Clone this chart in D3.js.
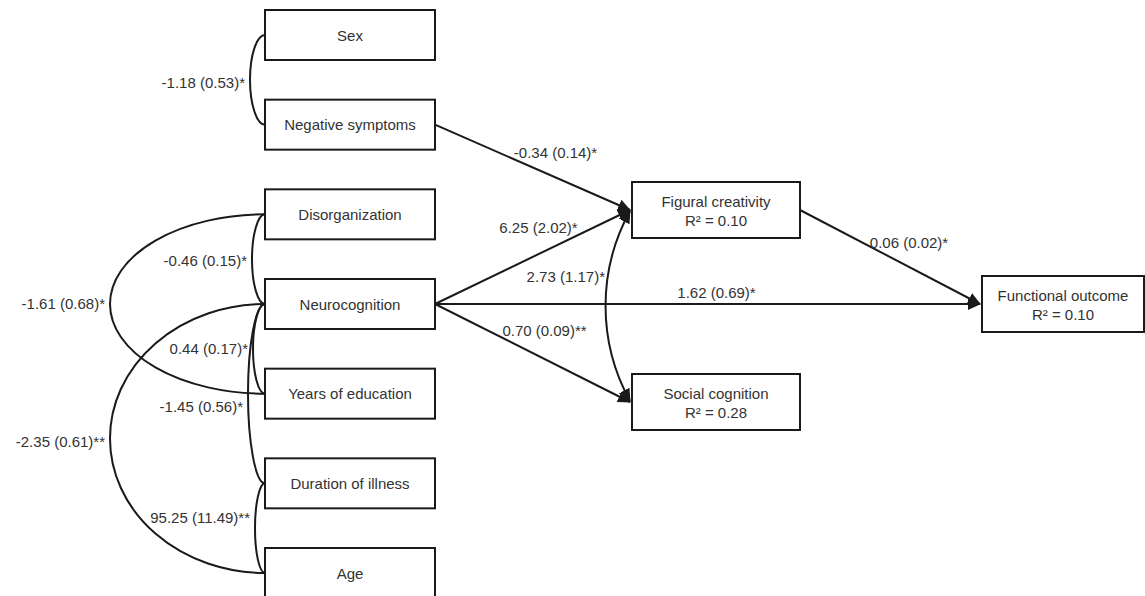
<!DOCTYPE html>
<html>
<head>
<meta charset="utf-8">
<script src="https://cdn.jsdelivr.net/npm/d3@7"></script>
<style>
  body { margin: 0; background: #fff; }
  svg { display: block; font-family: "Liberation Sans", Arial, sans-serif; }
</style>
</head>
<body>
<div class="chart-container"></div>
<script>
// observed variables (left column), top to bottom
const predictors = ["Sex", "Negative symptoms", "Disorganization", "Neurocognition",
                    "Years of education", "Duration of illness", "Age"];
const mediators = ["Figural creativity", "Social cognition"];
const mediatorR2 = ["0.10", "0.28"];
const outcome = "Functional outcome";
const outcomeR2 = "0.10";

// directed paths: estimate (SE)
const pathFrom  = ["Negative symptoms", "Neurocognition", "Neurocognition", "Neurocognition", "Figural creativity"];
const pathTo    = ["Figural creativity", "Figural creativity", "Functional outcome", "Social cognition", "Functional outcome"];
const pathLabel = ["-0.34 (0.14)*", "6.25 (2.02)*", "1.62 (0.69)*", "0.70 (0.09)**", "0.06 (0.02)*"];

// covariances between predictors
const covA     = ["Sex", "Disorganization", "Disorganization", "Neurocognition", "Neurocognition", "Neurocognition", "Duration of illness"];
const covB     = ["Negative symptoms", "Neurocognition", "Years of education", "Years of education", "Duration of illness", "Age", "Age"];
const covLabel = ["-1.18 (0.53)*", "-0.46 (0.15)*", "-1.61 (0.68)*", "0.44 (0.17)*", "-1.45 (0.56)*", "-2.35 (0.61)**", "95.25 (11.49)**"];

// residual covariance between mediators
const medCovLabel = "2.73 (1.17)*";

function draw() {
    const width = 1145;
    const height = 596;
    const ink = "#1a1a1a";
    const textColor = "#333";

    // layout
    const leftX = 265, leftW = 170, leftH = 50;
    const medX = 632, medW = 168, medH = 56;
    const outX = 982, outW = 162, outH = 56;

    const yLeft = d3.scalePoint().domain(predictors).range([35, 573]);
    const yMed = d3.scalePoint().domain(mediators).range([210, 402]);
    const yOut = yLeft("Neurocognition");

    // path label offsets from edge midpoint
    const labelOffset = [[22, -15], [5, -30], [8, -12], [11, -23], [18, -15]];
    // covariance bulge and label shift
    const covBulge = [15, 13, 155, 12, 17, 155, 10];
    const covDy = [3, 1, -1, 0, 13, 3, -11];

    const svg = d3.select('.chart-container').append("svg")
        .attr("width", width)
        .attr("height", height)
        .attr("viewBox", [0, 0, width, height]);

    const defs = svg.append("defs");
    defs.append("marker")
        .attr("id", "arrow")
        .attr("viewBox", "0 0 13 12")
        .attr("refX", 12)
        .attr("refY", 6)
        .attr("markerWidth", 13)
        .attr("markerHeight", 12)
        .attr("markerUnits", "userSpaceOnUse")
        .attr("orient", "auto-start-reverse")
        .append("path")
        .attr("d", "M0,0 L13,6 L0,12 Z")
        .attr("fill", ink);

    function anchor(name, side) {
        if (predictors.includes(name)) return [side === "left" ? leftX : leftX + leftW, yLeft(name)];
        if (mediators.includes(name)) return [side === "left" ? medX : medX + medW, yMed(name)];
        return [side === "left" ? outX : outX + outW, yOut];
    }

    // covariance curves (half ellipses on the left side)
    const covG = svg.append("g");
    covA.forEach((a, i) => {
        const p = anchor(a, "left");
        const q = anchor(covB[i], "left");
        const ry = (q[1] - p[1]) / 2;
        const rx = covBulge[i];
        covG.append("path")
            .attr("d", `M${p[0]},${p[1]} A${rx},${ry} 0 0 0 ${q[0]},${q[1]}`)
            .attr("fill", "none")
            .attr("stroke", ink)
            .attr("stroke-width", 2);
        covG.append("text")
            .attr("x", p[0] - rx - 5)
            .attr("y", (p[1] + q[1]) / 2 + covDy[i])
            .attr("text-anchor", "end")
            .attr("dominant-baseline", "central")
            .attr("fill", textColor)
            .attr("font-size", 15)
            .text(covLabel[i]);
    });

    // mediator residual covariance (double-headed arc)
    {
        const p = anchor(mediators[0], "left");
        const q = anchor(mediators[1], "left");
        const chord = q[1] - p[1], s = 25;
        const r = (chord * chord / 4 + s * s) / (2 * s);
        svg.append("path")
            .attr("d", `M${p[0] - 2},${p[1] + 1} A${r},${r} 0 0 0 ${q[0] - 2},${q[1] - 1}`)
            .attr("fill", "none")
            .attr("stroke", ink)
            .attr("stroke-width", 2)
            .attr("marker-start", "url(#arrow)")
            .attr("marker-end", "url(#arrow)");
        svg.append("text")
            .attr("x", p[0] - s - 2)
            .attr("y", (p[1] + q[1]) / 2 - 30)
            .attr("text-anchor", "end")
            .attr("dominant-baseline", "central")
            .attr("fill", textColor)
            .attr("font-size", 15)
            .text(medCovLabel);
    }

    // directed paths
    const pathG = svg.append("g");
    pathFrom.forEach((f, i) => {
        const p = anchor(f, "right");
        const q = anchor(pathTo[i], "left");
        pathG.append("line")
            .attr("x1", p[0]).attr("y1", p[1])
            .attr("x2", q[0] - 2).attr("y2", q[1])
            .attr("stroke", ink)
            .attr("stroke-width", 2)
            .attr("marker-end", "url(#arrow)");
        pathG.append("text")
            .attr("x", (p[0] + q[0]) / 2 + labelOffset[i][0])
            .attr("y", (p[1] + q[1]) / 2 + labelOffset[i][1])
            .attr("text-anchor", "middle")
            .attr("dominant-baseline", "central")
            .attr("fill", textColor)
            .attr("font-size", 15)
            .text(pathLabel[i]);
    });

    // boxes
    const boxes = [];
    predictors.forEach(n => boxes.push({ name: n, x: leftX, y: yLeft(n) - leftH / 2, w: leftW, h: leftH, r2: null }));
    mediators.forEach((n, i) => boxes.push({ name: n, x: medX, y: yMed(n) - medH / 2, w: medW, h: medH, r2: mediatorR2[i] }));
    boxes.push({ name: outcome, x: outX, y: yOut - outH / 2, w: outW, h: outH, r2: outcomeR2 });

    const box = svg.append("g").selectAll("g")
        .data(boxes)
        .join("g")
        .attr("transform", d => `translate(${d.x},${d.y})`);

    box.append("rect")
        .attr("width", d => d.w)
        .attr("height", d => d.h)
        .attr("fill", "#fff")
        .attr("stroke", ink)
        .attr("stroke-width", 2);

    box.append("text")
        .attr("x", d => d.w / 2)
        .attr("y", d => d.r2 ? d.h / 2 - 9 : d.h / 2)
        .attr("text-anchor", "middle")
        .attr("dominant-baseline", "central")
        .attr("fill", textColor)
        .attr("font-size", 15)
        .text(d => d.name);

    box.filter(d => d.r2).append("text")
        .attr("x", d => d.w / 2)
        .attr("y", d => d.h / 2 + 10)
        .attr("text-anchor", "middle")
        .attr("dominant-baseline", "central")
        .attr("fill", textColor)
        .attr("font-size", 15)
        .text(d => "R² = " + d.r2);
}

draw();
</script>
</body>
</html>
